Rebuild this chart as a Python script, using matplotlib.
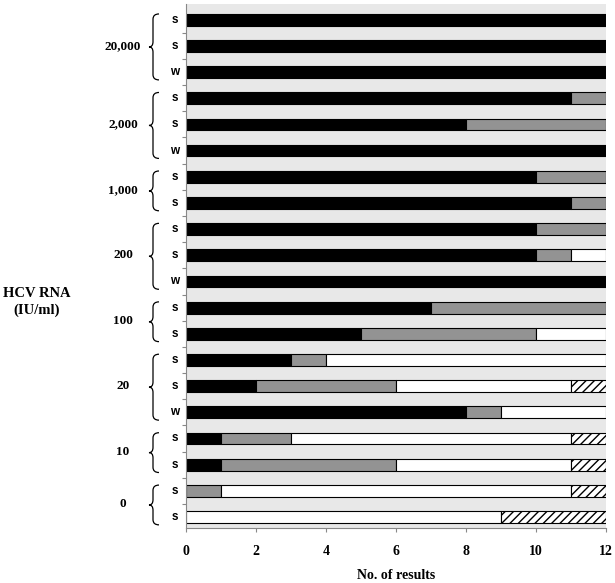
import matplotlib
matplotlib.use('Agg')
import matplotlib.pyplot as plt
import numpy as np
from matplotlib.path import Path
from matplotlib.patches import PathPatch
import matplotlib.transforms as mtransforms

# one row per bar, top to bottom
row_labels = ['s', 's', 'w', 's', 's', 'w', 's', 's', 's', 's', 'w',
              's', 's', 's', 's', 'w', 's', 's', 's', 's']
black = [12, 12, 12, 11, 8, 12, 10, 11, 10, 10, 12, 7, 5, 3, 2, 8, 1, 1, 0, 0]
gray = [0, 0, 0, 1, 4, 0, 2, 1, 2, 1, 0, 5, 5, 1, 4, 1, 2, 5, 1, 0]
white = [0, 0, 0, 0, 0, 0, 0, 0, 0, 1, 0, 0, 2, 8, 5, 3, 8, 5, 10, 9]
hatched = [0, 0, 0, 0, 0, 0, 0, 0, 0, 0, 0, 0, 0, 0, 1, 0, 1, 1, 1, 3]

groups = ['20,000', '2,000', '1,000', '200', '100', '20', '10', '0']
group_sizes = [3, 3, 2, 3, 2, 3, 2, 2]

serif = 'Liberation Serif'
sans = 'Liberation Sans'

fig = plt.figure(figsize=(6.15, 5.83), dpi=100)
ax = fig.add_axes([186/615, 55/583, 420/615, 524/583])
ax.set_facecolor('#e8e8e8')

y = np.arange(len(black))
h = 0.45
left = np.zeros(len(black))
styles = [(black, '#000000', None), (gray, '#939393', None),
          (white, '#ffffff', None), (hatched, '#ffffff', '////')]
for vals, col, hat in styles:
    vals = np.array(vals, dtype=float)
    m = vals > 0
    ax.barh(y[m], vals[m], left=left[m], height=h, color=col,
            edgecolor='black', linewidth=0.8, hatch=hat)
    left = left + vals

ax.set_xlim(0, 12)
ax.set_ylim(19.42, -0.6)
ax.set_xticks(range(0, 13, 2))
ax.set_xticklabels([str(v) for v in range(0, 13, 2)],
                   fontfamily=serif, fontweight='bold', fontsize=10)
ax.set_yticks(np.arange(0.5, 19, 1))
ax.set_yticklabels([])
ax.tick_params(axis='y', length=3, color='#888888', width=0.8)
ax.tick_params(axis='x', length=3, color='#888888', width=0.8, pad=9)
for s in ['top', 'right']:
    ax.spines[s].set_visible(False)
for s in ['left', 'bottom']:
    ax.spines[s].set_color('#888888')
    ax.spines[s].set_linewidth(0.8)

ax.set_xlabel('No. of results', fontfamily=serif, fontweight='bold',
              fontsize=10, labelpad=8)

trans = mtransforms.blended_transform_factory(fig.transFigure, ax.transData)

# s / w labels
for i, lab in enumerate(row_labels):
    ax.text(175/615, i, lab, transform=trans, ha='center', va='center',
            fontfamily=sans, fontweight='bold', fontsize=8.5)

# group labels and braces
start = 0
xr, xm, xl = 159/615, 153/615, 149/615
for name, n in zip(groups, group_sizes):
    top = start - 0.22
    bot = start + n - 1 + 0.3
    mid = (top + bot) / 2
    d = 0.2
    verts = [(xr, top), (xm, top), (xm, top + d),
             (xm, mid - d), (xm, mid), (xl, mid),
             (xm, mid), (xm, mid + d),
             (xm, bot - d), (xm, bot), (xr, bot)]
    codes = [Path.MOVETO, Path.CURVE3, Path.CURVE3,
             Path.LINETO, Path.CURVE3, Path.CURVE3,
             Path.CURVE3, Path.CURVE3,
             Path.LINETO, Path.CURVE3, Path.CURVE3]
    ax.add_patch(PathPatch(Path(verts, codes), transform=trans, fill=False,
                           lw=0.9, edgecolor='black', clip_on=False))
    ax.text(123/615, (start + start + n - 1) / 2, name, transform=trans,
            ha='center', va='center', fontfamily=serif, fontweight='bold',
            fontsize=9.5)
    start += n

fig.text(37/615, 1 - 302/583, 'HCV RNA\n(IU/ml)', ha='center', va='center',
         fontfamily=serif, fontweight='bold', fontsize=10.5, linespacing=1.3)

fig.savefig('out.png', dpi=100)
